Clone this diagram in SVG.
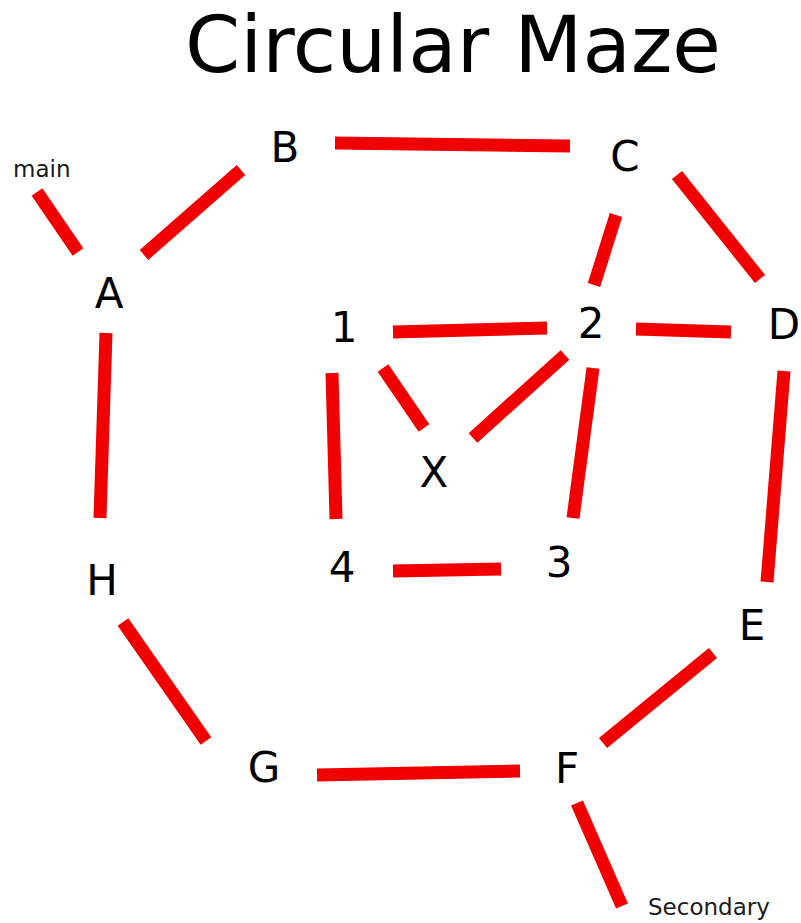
<svg xmlns="http://www.w3.org/2000/svg" width="801" height="923" viewBox="0 0 801 923">
<style>
.bg{fill:#ffffff}
.title{font-family:"DejaVu Sans",sans-serif;font-size:79px;fill:#000;text-anchor:middle}
.lbl{font-family:"DejaVu Sans",sans-serif;font-size:42px;fill:#000;text-anchor:middle}
.small{font-family:"DejaVu Sans",sans-serif;font-size:23px;fill:#1a1a1a}
.edge{stroke:#f00000;stroke-width:13;stroke-linecap:butt;fill:none}
</style>
<rect class="bg" x="0" y="0" width="801" height="923"/>
<text class="title" x="453" y="72">Circular Maze</text>
<g id="connectors">
<line class="edge" x1="37" y1="192" x2="78" y2="252"/>
<line class="edge" x1="144" y1="255" x2="241" y2="170"/>
<line class="edge" x1="335" y1="143" x2="570" y2="146"/>
<line class="edge" x1="616" y1="215" x2="594" y2="285"/>
<line class="edge" x1="677" y1="175" x2="760" y2="279"/>
<line class="edge" x1="393" y1="332" x2="547" y2="328"/>
<line class="edge" x1="636" y1="329" x2="731" y2="332"/>
<line class="edge" x1="383" y1="368" x2="424" y2="428"/>
<line class="edge" x1="565" y1="355" x2="473" y2="438"/>
<line class="edge" x1="332" y1="373" x2="336" y2="519"/>
<line class="edge" x1="593" y1="368" x2="573" y2="518"/>
<line class="edge" x1="784" y1="371" x2="767" y2="582"/>
<line class="edge" x1="106" y1="333" x2="100" y2="518"/>
<line class="edge" x1="393" y1="571" x2="501" y2="569"/>
<line class="edge" x1="123" y1="622" x2="206" y2="741"/>
<line class="edge" x1="317" y1="775" x2="520" y2="771"/>
<line class="edge" x1="713" y1="653" x2="603" y2="743"/>
<line class="edge" x1="577" y1="803" x2="622" y2="906"/>
</g>
<g id="node-main"><text class="small" x="13" y="177">main</text></g>
<g id="node-A"><text class="lbl" x="109" y="308">A</text></g>
<g id="node-B"><text class="lbl" x="285" y="162">B</text></g>
<g id="node-C"><text class="lbl" x="625" y="171">C</text></g>
<g id="node-D"><text class="lbl" x="784" y="339">D</text></g>
<g id="node-1"><text class="lbl" x="344" y="342">1</text></g>
<g id="node-2"><text class="lbl" x="591" y="338">2</text></g>
<g id="node-X"><text class="lbl" x="434" y="487">X</text></g>
<g id="node-4"><text class="lbl" x="342" y="582">4</text></g>
<g id="node-3"><text class="lbl" x="559" y="577">3</text></g>
<g id="node-H"><text class="lbl" x="102" y="595">H</text></g>
<g id="node-E"><text class="lbl" x="752" y="640">E</text></g>
<g id="node-G"><text class="lbl" x="264" y="782">G</text></g>
<g id="node-F"><text class="lbl" x="567" y="783">F</text></g>
<g id="node-secondary"><text class="small" x="648" y="915">Secondary</text></g>
</svg>
